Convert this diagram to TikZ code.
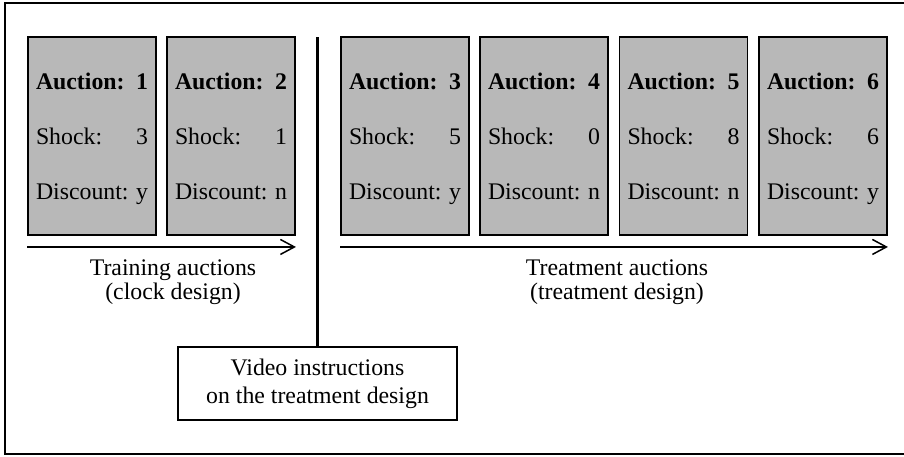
\documentclass[tikz,border=0pt]{standalone}
\usepackage{fontspec}
\setmainfont{Liberation Serif}
\usetikzlibrary{arrows.meta}

\definecolor{boxgray}{gray}{0.72}
\newcommand{\auctiontab}[3]{\raisebox{-1.5pt}[\height][\depth]{\begin{tabular*}{56pt}{@{}l@{\extracolsep{\fill}}r@{}}
  \textbf{Auction:} & \textbf{#1}\\[13.5pt]
  Shock: & #2\\[13.5pt]
  Discount: & #3
\end{tabular*}}\hspace{2pt}}

\tikzset{
  every node/.style={font=\fontsize{11.9}{14}\selectfont},
  auction/.style={draw, line width=0.95pt, fill=boxgray, minimum width=64pt,
    minimum height=99pt, inner sep=0pt},
  timeline/.style={line width=0.75pt, -{Straight Barb[length=7pt, width=7.5pt]}},
  phaselabel/.style={align=center, inner sep=0pt, font=\fontsize{11.9}{12}\selectfont},
}

\begin{document}
\begin{tikzpicture}[x=0.5pt, y=-0.5pt]
  \useasboundingbox (0,0) rectangle (904,456);
  \draw [line width=1.1pt] (5,3) rectangle (912,454);

  \node[auction] (a1) at (92,136) {\auctiontab{1}{3}{y}};
  \node[auction] (a2) at (231,136) {\auctiontab{2}{1}{n}};
  \node[auction] (a3) at (405,136) {\auctiontab{3}{5}{y}};
  \node[auction] (a4) at (544,136) {\auctiontab{4}{0}{n}};
  \node[auction] (a5) at (683.5,136) {\auctiontab{5}{8}{n}};
  \node[auction] (a6) at (823,136) {\auctiontab{6}{6}{y}};

  \draw [timeline] ([yshift=-5.5pt]a1.south west) -- ([yshift=-5.5pt]a2.south east);
  \draw [timeline] ([yshift=-5.5pt]a3.south west) -- ([yshift=-5.5pt]a6.south east);
  \node[phaselabel, anchor=north] (training) at (173,259) {Training auctions\\(clock design)};
  \node[phaselabel, anchor=north] (treatment) at (617,259) {Treatment auctions\\(treatment design)};

  \node[draw, line width=0.95pt, minimum width=139.5pt, minimum height=36.5pt, inner sep=0pt,
    align=center] (video) at (317.5,383.5) {Video instructions\\on the treatment design};
  \coordinate (divtop) at (317.5,37);
  \draw [line width=1.4pt] (divtop) -- (video.north);

\end{tikzpicture}
\end{document}
